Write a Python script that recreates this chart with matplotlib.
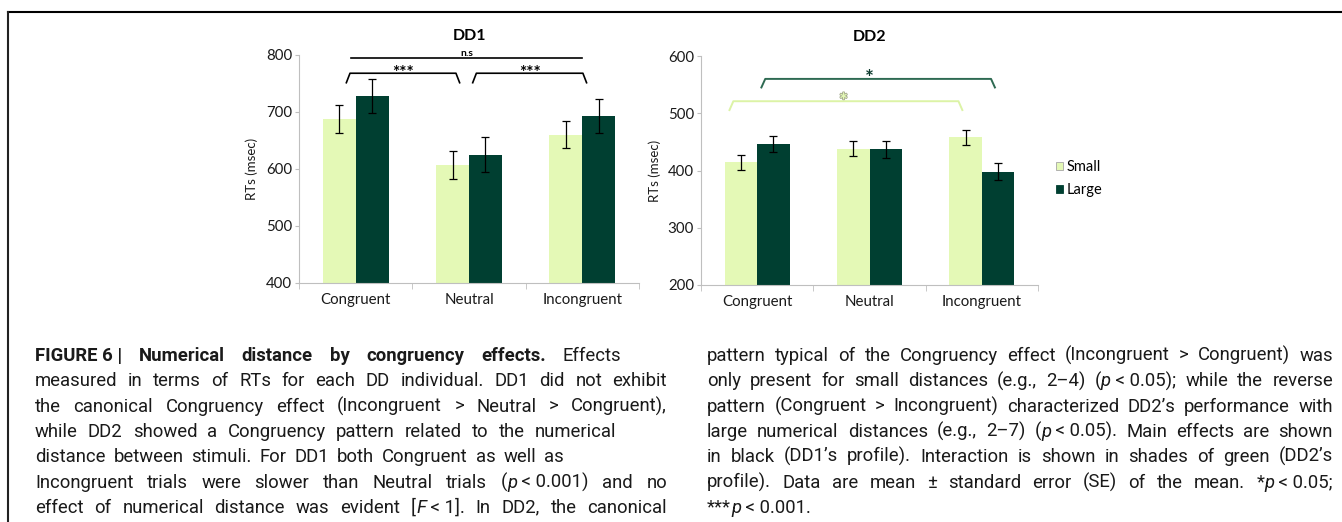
import numpy as np
import matplotlib
matplotlib.use('Agg')
import matplotlib.pyplot as plt
from matplotlib.lines import Line2D
from matplotlib.patches import Patch
import matplotlib.patheffects as pe

# data (msec)
categories = ['Congruent', 'Neutral', 'Incongruent']
series = ['Small', 'Large']

dd1_small = [688, 607, 660]
dd1_small_se = [24, 24, 24]
dd1_large = [728, 625, 693]
dd1_large_se = [30, 31, 30]

dd2_small = [414, 438, 458]
dd2_small_se = [13, 13, 13]
dd2_large = [446, 437, 398]
dd2_large_se = [14, 15, 15]

caption_left = [
    "!FIGURE~6~| !Numerical !distance !by !congruency !effects. Effects",
    "measured in terms of RTs for each DD individual. DD1 did not exhibit",
    "the canonical Congruency effect (Incongruent > Neutral > Congruent),",
    "while DD2 showed a Congruency pattern related to the numerical",
    "distance between stimuli. For DD1 both Congruent as well as",
    "Incongruent trials were slower than Neutral trials (_p_~<~0.001) and no",
    "effect of numerical distance was evident [_F_~<~1]. In DD2, the canonical",
]
caption_right = [
    "pattern typical of the Congruency effect (Incongruent > Congruent) was",
    "only present for small distances (e.g., 2\u20134) (_p_~<~0.05); while the reverse",
    "pattern (Congruent > Incongruent) characterized DD2\u2019s performance with",
    "large numerical distances (e.g., 2\u20137) (_p_~<~0.05). Main effects are shown",
    "in black (DD1\u2019s profile). Interaction is shown in shades of green (DD2\u2019s",
    "profile). Data are mean \u00b1 standard error (SE) of the mean. *_p_~<~0.05;",
    "***_p_~<~0.001.",
]

W, H = 1342, 522
light = '#E4F9B6'
dark = '#003F31'
axis_grey = '#BFBFBF'

plt.rcParams['font.family'] = ['Lato', 'DejaVu Sans']
fig = plt.figure(figsize=(W / 100, H / 100), dpi=100)
ax1 = fig.add_axes([299 / W, 1 - 283 / H, 340 / W, 228 / H])
ax2 = fig.add_axes([701 / W, 1 - 285 / H, 337 / W, 229 / H])


def panel(ax, small, small_se, large, large_se, ylim, title):
    x = np.arange(len(categories))
    w = 0.29
    ekw = dict(ecolor='black', elinewidth=0.9, capsize=3, capthick=0.9)
    ax.bar(x - w / 2, small, w, yerr=small_se, color=light, error_kw=ekw, zorder=2)
    ax.bar(x + w / 2, large, w, yerr=large_se, color=dark, error_kw=ekw, zorder=2)
    ax.set_xlim(-0.5, len(categories) - 0.5)
    ax.set_ylim(*ylim)
    ax.set_yticks(np.arange(ylim[0], ylim[1] + 1, 100))
    for s in ['top', 'right']:
        ax.spines[s].set_visible(False)
    for s in ['left', 'bottom']:
        ax.spines[s].set_color(axis_grey)
        ax.spines[s].set_linewidth(0.8)
    ax.tick_params(axis='y', length=3, color=axis_grey, labelsize=10.8,
                   pad=2, labelcolor='#1a1a1a')
    ax.set_xticks(x, categories)
    ax.tick_params(axis='x', which='major', length=0, pad=7, labelsize=10.8,
                   labelcolor='#1a1a1a')
    ax.set_xticks(np.arange(-0.5, len(categories)), minor=True)
    ax.tick_params(axis='x', which='minor', length=4, color=axis_grey)
    ax.set_ylabel('RTs (msec)', fontsize=9.5, color='#1a1a1a')
    ax.yaxis.set_label_coords(-0.12, 0.5)
    ax.set_title(title, fontsize=11.5, fontweight='bold', pad=11)


def bracket(ax, x1, x2, ytop, ybot, slant, color, lw=1.2):
    ax.plot([x1, x1 + slant, x2 - slant, x2], [ybot, ytop, ytop, ybot],
            color=color, lw=lw, clip_on=False, solid_capstyle='butt', zorder=3)


panel(ax1, dd1_small, dd1_small_se, dd1_large, dd1_large_se, (400, 800), 'DD1')
panel(ax2, dd2_small, dd2_small_se, dd2_large, dd2_large_se, (200, 600), 'DD2')

# DD1 main effects (black)
ax1.plot([-0.04, 2.0], [794, 794], color='black', lw=1.2, clip_on=False)
ax1.text(0.98, 798, 'n.s', ha='center', va='baseline', fontsize=7.5, fontweight='bold')
bracket(ax1, -0.085, 0.92, 768, 750, 0.035, 'black')
bracket(ax1, 1.03, 2.04, 768, 750, 0.035, 'black')
ax1.text(0.42, 760, '***', ha='center', va='baseline', fontsize=12.5, fontweight='bold')
ax1.text(1.535, 760, '***', ha='center', va='baseline', fontsize=12.5, fontweight='bold')

# DD2 interaction (greens)
bracket(ax2, 0.034, 2.12, 560, 543.5, 0.038, '#2E6A52', lw=1.4)
ax2.text(1.0, 549, '*', ha='center', va='baseline', fontsize=15, fontweight='bold',
         color='#0D3B2E')
bracket(ax2, -0.25, 1.83, 521, 504, 0.038, '#DCF3A6', lw=1.4)
ax2.text(0.77, 509, '*', ha='center', va='baseline', fontsize=15, fontweight='bold',
         color='#E4F9B6',
         path_effects=[pe.withStroke(linewidth=1.2, foreground='#A3A88E')])

fig.legend(handles=[Patch(facecolor=light, edgecolor='#A6A6A6', lw=0.6),
                    Patch(facecolor=dark, edgecolor=dark, lw=0.6)],
           labels=series, loc='center left', bbox_to_anchor=(1056 / W, 1 - 178.5 / H),
           frameon=False, fontsize=10.5, handlelength=0.5, handleheight=0.5,
           handletextpad=0.25, labelspacing=0.6, borderpad=0, borderaxespad=0)

# figure frame (top and left)
fig.add_artist(Line2D([8 / W, 1], [1 - 12 / H, 1 - 12 / H], color='black', lw=1.5))
fig.add_artist(Line2D([8 / W, 8 / W], [0, 1 - 12 / H], color='#222222', lw=1.5))

# caption, justified in two columns
cap_font = ['Roboto', 'DejaVu Sans']
cap_size = 13.3
styles = {'n': {}, 'i': {'style': 'italic'}, 'b': {'weight': 'bold'}}
renderer = fig.canvas.get_renderer()


def parse(word):
    bold = word.startswith('!')
    if bold:
        word = word[1:]
    segs = []
    for k, part in enumerate(word.split('_')):
        if part:
            st = 'b' if bold else ('i' if k % 2 else 'n')
            segs.append((part.replace('~', ' '), st))
    return segs


def width(text, st):
    t = fig.text(0, 0, text, family=cap_font, size=cap_size, **styles[st])
    w = t.get_window_extent(renderer).width
    t.remove()
    return w


space = width('a a', 'n') - width('aa', 'n')
baselines = [361, 386.3, 411.6, 436.9, 462.2, 487.5, 512.8]
left_ends = [621, 667, 667, 616, 564, 667, 667]
right_ends = [1333] * 6 + [None]


def set_column(lines, x0, ends):
    for line, y, x1 in zip(lines, baselines, ends):
        words = [parse(w) for w in line.split(' ')]
        widths = [[width(s, st) for s, st in segs] for segs in words]
        total = sum(sum(w) for w in widths)
        gap = space
        if x1 is not None and len(words) > 1:
            gap = max((x1 - x0 - total) / (len(words) - 1), space * 0.8)
        x = x0
        for segs, ws in zip(words, widths):
            for (s, st), w in zip(segs, ws):
                fig.text(x / W, 1 - y / H, s, family=cap_font, size=cap_size,
                         ha='left', va='baseline', color='#1a1a1a', **styles[st])
                x += w
            x += gap


set_column(caption_left, 35, left_ends)
set_column(caption_right, 707, right_ends)

fig.savefig('out.png', dpi=100)
